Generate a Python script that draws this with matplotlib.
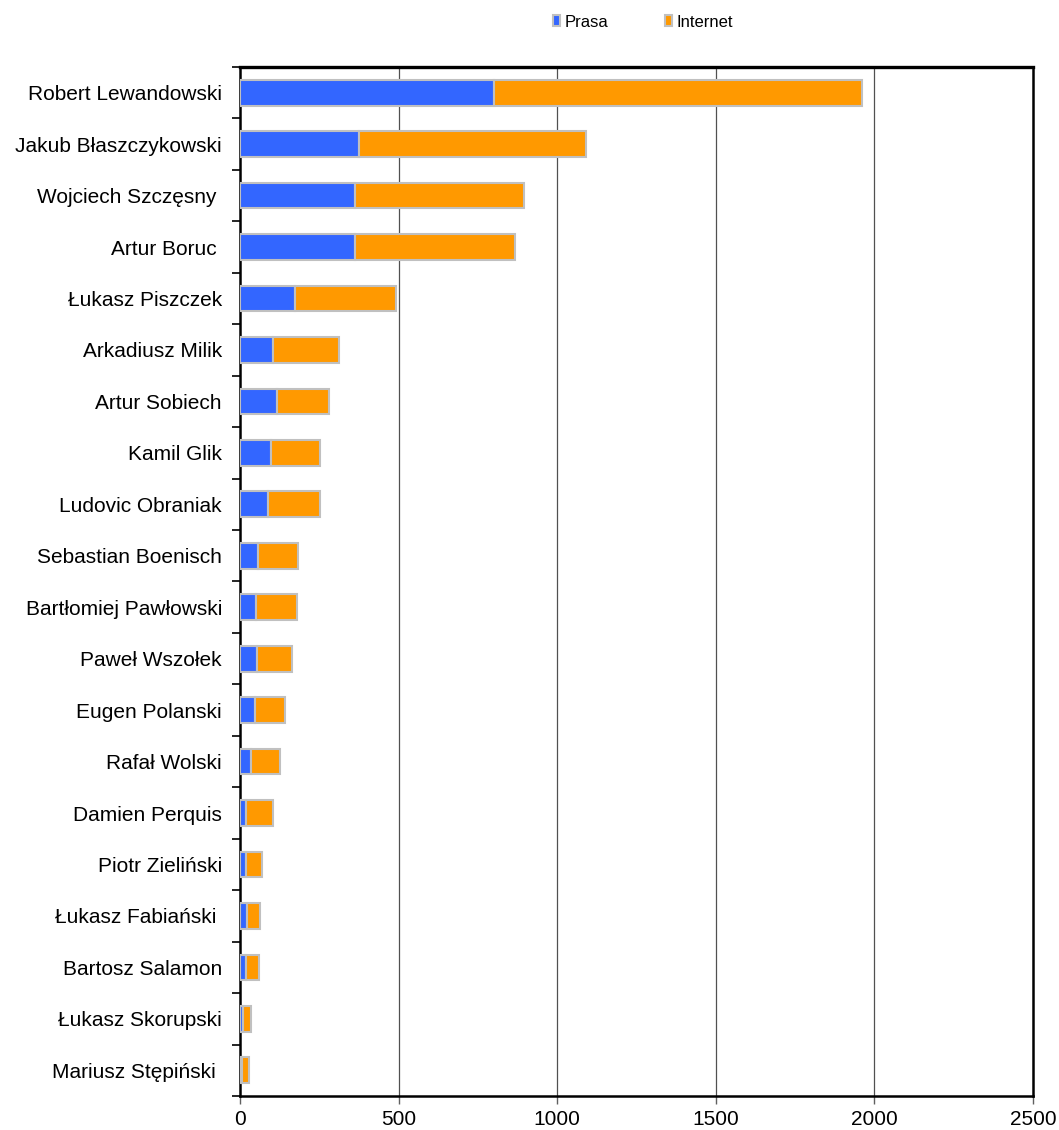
import matplotlib
matplotlib.use("Agg")
import matplotlib.pyplot as plt
from matplotlib.patches import Patch
import numpy as np

plt.rcParams['font.family'] = ['Liberation Sans', 'DejaVu Sans']

players = ["Robert Lewandowski", "Jakub Błaszczykowski", "Wojciech Szczęsny ",
           "Artur Boruc ", "Łukasz Piszczek", "Arkadiusz Milik", "Artur Sobiech",
           "Kamil Glik", "Ludovic Obraniak", "Sebastian Boenisch",
           "Bartłomiej Pawłowski", "Paweł Wszołek", "Eugen Polanski", "Rafał Wolski",
           "Damien Perquis", "Piotr Zieliński", "Łukasz Fabiański ",
           "Bartosz Salamon", "Łukasz Skorupski", "Mariusz Stępiński "]
prasa = [800, 375, 364, 364, 175, 105, 116, 99, 88, 57,
         51, 54, 46, 34, 19, 18, 22, 18, 11, 7]
internet = [1160, 715, 531, 503, 317, 207, 166, 152, 163, 126,
            128, 110, 95, 93, 86, 53, 42, 41, 24, 21]
xticks = [0, 500, 1000, 1500, 2000, 2500]

fig = plt.figure(figsize=(10.59, 11.30), dpi=100)
ax = fig.add_axes([0.2266, 0.0301, 0.7488, 0.9106])

y = np.arange(len(players))
h = 0.5
ax.barh(y, prasa, height=h, color='#3366FF', edgecolor='#C0C0C0', linewidth=1.5, zorder=3)
ax.barh(y, internet, left=prasa, height=h, color='#FF9900', edgecolor='#C0C0C0', linewidth=1.5, zorder=3)

ax.set_xlim(0, 2500)
ax.set_ylim(len(players) - 0.5, -0.5)
ax.set_xticks(xticks)
ax.set_xticklabels([str(v) for v in xticks], fontsize=15)
ax.set_yticks(y)
ax.set_yticklabels(players, fontsize=15)
ax.tick_params(axis='y', length=0, pad=13)
ax.set_yticks(np.arange(-0.5, len(players)), minor=True)
ax.tick_params(axis='y', which='minor', length=6, width=1.2, direction='out', color='black')
ax.tick_params(axis='x', length=6, width=1, direction='out', color='#606060', pad=4)

for xv in xticks[1:-1]:
    ax.axvline(xv, color='#505050', linewidth=0.9, zorder=1)

for s in ax.spines.values():
    s.set_linewidth(1.8)
    s.set_color('black')
ax.spines['top'].set_linewidth(2.4)

handles = [Patch(facecolor='#3366FF', edgecolor='#C0C0C0', linewidth=1.5, label='Prasa'),
           Patch(facecolor='#FF9900', edgecolor='#C0C0C0', linewidth=1.5, label='Internet')]
fig.legend(handles=handles, loc='center', bbox_to_anchor=(0.607, 0.9805), ncol=2,
           frameon=False, fontsize=12, handlelength=0.45, handleheight=0.6,
           handletextpad=0.25, columnspacing=3.4)

fig.savefig('out.png', dpi=100)
